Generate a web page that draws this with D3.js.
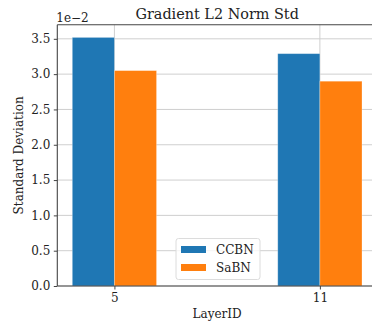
<!DOCTYPE html>
<html>
<head>
<meta charset="utf-8">
<script src="https://cdn.jsdelivr.net/npm/d3@7"></script>
<style>
  html, body { margin: 0; padding: 0; background: #fff; }
  text { font-family: "DejaVu Serif", serif; fill: #222; }
</style>
</head>
<body>
<div id="chart"></div>
<script>
// values are in units of 1e-2
const layers = ["5", "11"];
const seriesNames = ["CCBN", "SaBN"];
const ccbn = [3.52, 3.29];
const sabn = [3.05, 2.90];
const yTicks = [0.0, 0.5, 1.0, 1.5, 2.0, 2.5, 3.0, 3.5];
const colors = ["#1f77b4", "#ff7f0e"];

const width = 372, height = 325;
const plotLeft = 57.3, plotTop = 24.7, plotBottom = 286, plotRight = 377;
const barW = 0.205;

const svg = d3.select("#chart")
  .append("svg")
  .attr("width", width)
  .attr("height", height);

const x = d3.scaleLinear().domain([-0.278, 1.278]).range([plotLeft, plotRight]);
const y = d3.scaleLinear().domain([0, 3.7]).range([plotBottom, plotTop]);

// grid
svg.append("g")
  .selectAll("line")
  .data(yTicks)
  .enter()
  .append("line")
  .attr("x1", plotLeft).attr("x2", plotRight)
  .attr("y1", d => y(d)).attr("y2", d => y(d))
  .attr("stroke", "#cfcfcf").attr("stroke-width", 1);

svg.append("g")
  .selectAll("line")
  .data(layers)
  .enter()
  .append("line")
  .attr("x1", (d, i) => x(i)).attr("x2", (d, i) => x(i))
  .attr("y1", plotTop).attr("y2", plotBottom)
  .attr("stroke", "#cfcfcf").attr("stroke-width", 1);

// bars
const series = [ccbn, sabn];
series.forEach((vals, s) => {
  svg.append("g")
    .selectAll("rect")
    .data(vals)
    .enter()
    .append("rect")
    .attr("x", (d, i) => s === 0 ? x(i - barW) : x(i))
    .attr("width", x(barW) - x(0))
    .attr("y", d => y(d))
    .attr("height", d => y(0) - y(d))
    .attr("fill", colors[s])
    .attr("stroke", "rgba(255,255,255,0.35)")
    .attr("stroke-width", 0.8);
});

// axes
const yAxis = d3.axisLeft(y)
  .tickValues(yTicks)
  .tickFormat(d3.format(".1f"))
  .tickSize(3.5)
  .tickPadding(3.5);

svg.append("g")
  .attr("transform", "translate(" + plotLeft + ",0)")
  .call(yAxis)
  .call(g => g.select(".domain").remove())
  .call(g => g.selectAll("line").attr("stroke", "#444"))
  .call(g => g.selectAll("text").style("font-family", "DejaVu Serif").style("font-size", "12px").attr("fill", "#222"));

const xAxis = d3.axisBottom(x)
  .tickValues([0, 1])
  .tickFormat(i => layers[i])
  .tickSize(3.5)
  .tickPadding(3.5);

svg.append("g")
  .attr("transform", "translate(0," + plotBottom + ")")
  .call(xAxis)
  .call(g => g.select(".domain").remove())
  .call(g => g.selectAll("line").attr("stroke", "#444"))
  .call(g => g.selectAll("text").style("font-family", "DejaVu Serif").style("font-size", "12px").attr("fill", "#222"));

// spines
svg.append("line").attr("x1", plotLeft).attr("x2", plotLeft).attr("y1", plotTop).attr("y2", plotBottom)
  .attr("stroke", "#444").attr("stroke-width", 1.1);
svg.append("line").attr("x1", plotLeft).attr("x2", plotRight).attr("y1", plotBottom).attr("y2", plotBottom)
  .attr("stroke", "#444").attr("stroke-width", 1.1);
svg.append("line").attr("x1", plotLeft).attr("x2", plotRight).attr("y1", plotTop).attr("y2", plotTop)
  .attr("stroke", "#444").attr("stroke-width", 1.1);

// texts
svg.append("text")
  .attr("x", (plotLeft + plotRight) / 2).attr("y", 19)
  .attr("text-anchor", "middle")
  .style("font-size", "14.4px")
  .text("Gradient L2 Norm Std");

svg.append("text")
  .attr("x", plotLeft - 1).attr("y", 21.5)
  .style("font-size", "12px")
  .text("1e\u22122");

svg.append("text")
  .attr("transform", "translate(23," + (plotTop + plotBottom) / 2 + ") rotate(-90)")
  .attr("text-anchor", "middle")
  .style("font-size", "12px")
  .text("Standard Deviation");

svg.append("text")
  .attr("x", (plotLeft + plotRight) / 2).attr("y", 318)
  .attr("text-anchor", "middle")
  .style("font-size", "12px")
  .text("LayerID");

// legend
const lg = svg.append("g").attr("transform", "translate(176,238.5)");
lg.append("rect")
  .attr("width", 84).attr("height", 41)
  .attr("rx", 2.5)
  .attr("fill", "rgba(255,255,255,0.8)")
  .attr("stroke", "#dcdcdc");
seriesNames.forEach((name, i) => {
  lg.append("rect")
    .attr("x", 5).attr("y", 7.5 + i * 18)
    .attr("width", 25).attr("height", 7)
    .attr("fill", colors[i]);
  lg.append("text")
    .attr("x", 40).attr("y", 15 + i * 18)
    .style("font-size", "12px")
    .text(name);
});
</script>
</body>
</html>
